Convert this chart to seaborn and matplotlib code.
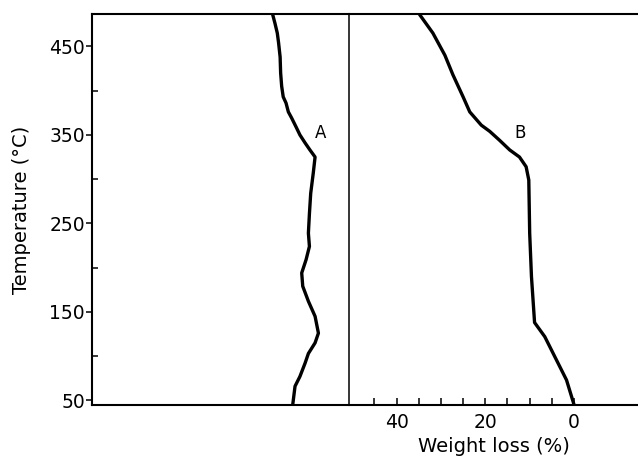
import numpy as np
import pandas as pd
import seaborn as sns
import matplotlib
matplotlib.use("Agg")
import matplotlib.pyplot as plt
from matplotlib.ticker import FixedLocator

# Curve A (left panel, arbitrary signal units 0-100)
a_signal = [70.3, 71.2, 72.1, 72.6, 73.2, 73.4, 73.8, 74.4, 75.5, 76.4, 77.7, 79.4,
            80.9, 82.9, 84.8, 86.8, 86.1, 85.1, 84.6, 84.2, 84.6, 83.3, 81.6, 82.0,
            84.2, 86.8, 88.1, 86.8, 84.2, 82.9, 80.9, 79.0, 78.1]
a_temp = [486, 476, 465, 454, 438, 420, 405, 393, 386, 376, 369, 359,
          350, 341, 333, 325, 307, 284, 261, 239, 224, 209, 194, 179,
          162, 145, 126, 115, 103, 92, 77, 66, 45]

# Curve B (weight loss, %)
b_loss = [34.8, 31.8, 29.1, 27.3, 25.0, 23.5, 20.9, 19.0, 16.8, 14.5, 12.3, 10.8,
          10.2, 10.0, 9.6, 8.9, 6.6, 4.0, 1.7, 0.0]
b_temp = [486, 465, 440, 418, 393, 376, 361, 354, 344, 333, 325, 314,
          299, 239, 190, 138, 122, 96, 73, 45]

y_major = [50, 150, 250, 350, 450]
y_minor = [100, 200, 300, 400]
x_ticks = [45, 40, 35, 30, 25, 20, 15, 10, 5, 0]
x_ticklabels = ["", "40", "", "", "", "20", "", "", "", "0"]

sns.set_theme(style="white")
plt.rcParams["font.family"] = ["DejaVu Sans"]
plt.rcParams["text.color"] = "black"
plt.rcParams["axes.labelcolor"] = "black"
plt.rcParams["xtick.color"] = "black"
plt.rcParams["ytick.color"] = "black"

fig = plt.figure(figsize=(6.38, 4.58), dpi=100)
L, R, B, T = 92 / 638, 1.0, 1 - 405 / 458, 1 - 14 / 458
split = 349 / 638
axA = fig.add_axes([L, B, split - L, T - B])
axB = fig.add_axes([split, B, R - split, T - B], sharey=axA)
axB.patch.set_alpha(0)

dfA = pd.DataFrame({"signal": a_signal, "temp": a_temp})
dfB = pd.DataFrame({"loss": b_loss, "temp": b_temp})

sns.lineplot(data=dfA, x="signal", y="temp", ax=axA, color="black", lw=2.4,
             estimator=None, orient="y", sort=True)
sns.lineplot(data=dfB, x="loss", y="temp", ax=axB, color="black", lw=2.4,
             estimator=None, orient="y", sort=True)

axA.set_xlim(0, 100)
axB.set_xlim(50.7, -14.4)
axA.set_ylim(44.8, 486.6)

for ax in (axA, axB):
    for s in ax.spines.values():
        s.set_color("black")
        s.set_linewidth(1.5)
axA.spines["right"].set_linewidth(1.1)
axB.spines["left"].set_visible(False)
axB.spines["right"].set_visible(False)

# y axis ticks
axA.yaxis.set_major_locator(FixedLocator(y_major))
axA.yaxis.set_minor_locator(FixedLocator(y_minor))
axA.tick_params(axis="y", which="major", direction="out", length=4, width=1.1,
                color="black", labelcolor="black", labelsize=13.5, pad=1, left=True)
axA.tick_params(axis="y", which="minor", direction="in", length=4, width=1.1,
                color="black", left=True)
axA.set_xticks([])
axA.set_xlabel("")
axA.set_ylabel("Temperature (°C)", fontsize=14, labelpad=13, color="black")

axB.tick_params(axis="y", which="both", left=False, labelleft=False)
axB.set_ylabel("")
axB.set_xticks(x_ticks)
axB.set_xticklabels(x_ticklabels)
axB.tick_params(axis="x", direction="in", length=5, width=1.1, color="black",
                labelcolor="black", labelsize=13.5, pad=6, bottom=True)
axB.set_xlabel("Weight loss (%)", fontsize=14, labelpad=3, color="black")

axA.text(88.8, 352, "A", fontsize=12, ha="center", va="center", color="black")
axB.text(12.2, 352, "B", fontsize=12, ha="center", va="center", color="black")

fig.savefig("out.png", dpi=100)
